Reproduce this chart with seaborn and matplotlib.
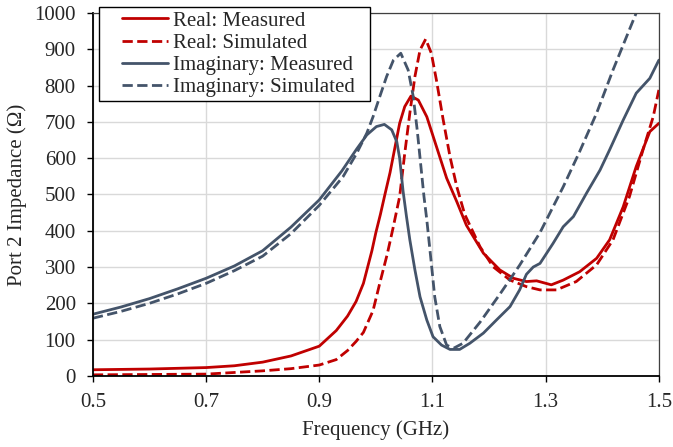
import matplotlib
matplotlib.use("Agg")
import matplotlib.pyplot as plt
from matplotlib.lines import Line2D
from matplotlib.legend_handler import HandlerLine2D
import seaborn as sns
import pandas as pd

# Real part, measured
f_re_meas = [0.50, 0.60, 0.70, 0.75, 0.80, 0.85, 0.90, 0.93, 0.95, 0.965, 0.978,
             0.993, 1.000, 1.008, 1.016, 1.025, 1.034, 1.042, 1.051, 1.062, 1.075,
             1.090, 1.107, 1.125, 1.143, 1.160, 1.190, 1.219, 1.243, 1.266, 1.284,
             1.310, 1.331, 1.360, 1.390, 1.413, 1.437, 1.460, 1.484, 1.500]
z_re_meas = [17, 19, 23, 28, 38, 55, 82, 125, 165, 205, 255,
             345, 395, 445, 500, 560, 632, 696, 742, 771, 760,
             714, 632, 545, 480, 415, 338, 292, 269, 260, 262,
             251, 264, 287, 324, 375, 466, 577, 673, 696]

# Real part, simulated
f_re_sim = [0.50, 0.60, 0.70, 0.80, 0.85, 0.90, 0.93, 0.95, 0.965, 0.978, 0.995,
            1.007, 1.020, 1.030, 1.042, 1.051, 1.060, 1.069, 1.078, 1.088, 1.098,
            1.107, 1.119, 1.131, 1.143, 1.157, 1.184, 1.207, 1.237, 1.266, 1.290,
            1.319, 1.354, 1.390, 1.419, 1.448, 1.472, 1.490, 1.500]
z_re_sim = [3, 4, 5, 14, 20, 30, 45, 70, 95, 120, 180,
            256, 335, 405, 494, 613, 724, 825, 898, 928, 889,
            815, 705, 604, 521, 445, 356, 301, 264, 246, 237,
            237, 260, 306, 375, 494, 623, 714, 788]

# Imaginary part, measured
f_im_meas = [0.50, 0.55, 0.60, 0.65, 0.70, 0.75, 0.80, 0.85, 0.90, 0.94, 0.966,
             0.984, 1.001, 1.015, 1.028, 1.037, 1.042, 1.048, 1.054, 1.060, 1.069,
             1.078, 1.090, 1.101, 1.116, 1.131, 1.148, 1.166, 1.190, 1.213, 1.237,
             1.254, 1.266, 1.278, 1.290, 1.313, 1.331, 1.349, 1.372, 1.396, 1.413,
             1.437, 1.460, 1.484, 1.500]
z_im_meas = [170, 190, 213, 240, 269, 303, 345, 410, 485, 565, 625,
             664, 687, 693, 678, 645, 600, 510, 440, 375, 292,
             218, 154, 108, 85, 73, 73, 90, 118, 154, 191,
             237, 280, 300, 310, 365, 411, 439, 503, 567, 623,
             705, 779, 820, 870]

# Imaginary part, simulated
f_im_sim = [0.50, 0.55, 0.60, 0.65, 0.70, 0.75, 0.80, 0.85, 0.90, 0.942, 0.966,
            0.984, 0.995, 1.007, 1.019, 1.031, 1.044, 1.057, 1.066, 1.073, 1.079,
            1.085, 1.090, 1.098, 1.104, 1.113, 1.125, 1.137, 1.154, 1.184, 1.219,
            1.254, 1.290, 1.331, 1.360, 1.390, 1.419, 1.443, 1.460, 1.480]
z_im_sim = [159, 178, 200, 226, 255, 290, 330, 392, 470, 549, 613,
            669, 714, 770, 825, 870, 889, 843, 770, 678, 586,
            494, 430, 310, 218, 136, 85, 76, 90, 148, 225,
            305, 395, 521, 618, 724, 843, 935, 1000, 1070]

red = "#C00000"
slate = "#44546A"

sns.set_theme(style="whitegrid")
plt.rcParams['font.family'] = ['Liberation Serif', 'DejaVu Serif']

fig = plt.figure(figsize=(6.73, 4.47), dpi=100)
ax = fig.add_axes([0.138, 0.159, 0.841, 0.812])

series = [
    (f_re_meas, z_re_meas, red, '-', 'Real: Measured'),
    (f_re_sim, z_re_sim, red, '--', 'Real: Simulated'),
    (f_im_meas, z_im_meas, slate, '-', 'Imaginary: Measured'),
    (f_im_sim, z_im_sim, slate, '--', 'Imaginary: Simulated'),
]
for fx, zy, col, ls, lab in series:
    df = pd.DataFrame({'f': fx, 'z': zy})
    sns.lineplot(data=df, x='f', y='z', ax=ax, color=col, linestyle=ls,
                 linewidth=2.0, label=lab, sort=False, estimator=None)

ax.set_xlim(0.5, 1.5)
ax.set_ylim(0, 1000)
ax.set_xticks([0.5, 0.7, 0.9, 1.1, 1.3, 1.5])
ax.set_xticklabels(['0.5', '0.7', '0.9', '1.1', '1.3', '1.5'])
ax.set_yticks(range(0, 1001, 100))
ax.grid(True, color='#D9D9D9', linewidth=1.0)
ax.set_facecolor('white')
for side in ['top', 'right']:
    ax.spines[side].set_color('#404040')
    ax.spines[side].set_linewidth(0.9)
for side in ['left', 'bottom']:
    ax.spines[side].set_color('black')
    ax.spines[side].set_linewidth(1.3)
ax.tick_params(axis='both', which='major', labelsize=15, direction='out',
               length=4.3, width=1, color='black', left=True, bottom=True, pad=8)
ax.set_xlabel('Frequency (GHz)', fontsize=15, labelpad=6)
ax.set_ylabel('Port 2 Impedance (Ω)', fontsize=15, labelpad=5)

# legend box spans x 99..370 px, top at 7 px
leg_box = (99 / 673, 1 - 100 / 447, 271 / 673, 93 / 447)
leg = ax.legend(loc='upper left', bbox_to_anchor=leg_box, mode='expand',
                bbox_transform=fig.transFigure, fontsize=15, frameon=True,
                fancybox=False, edgecolor='black', framealpha=1,
                handlelength=3.1, handletextpad=0.25, borderpad=0.2,
                labelspacing=0.12, borderaxespad=0,
                handler_map={Line2D: HandlerLine2D(xpad=0.9)})
leg.get_frame().set_linewidth(1.0)

fig.savefig('out.png', dpi=100, facecolor='white')
